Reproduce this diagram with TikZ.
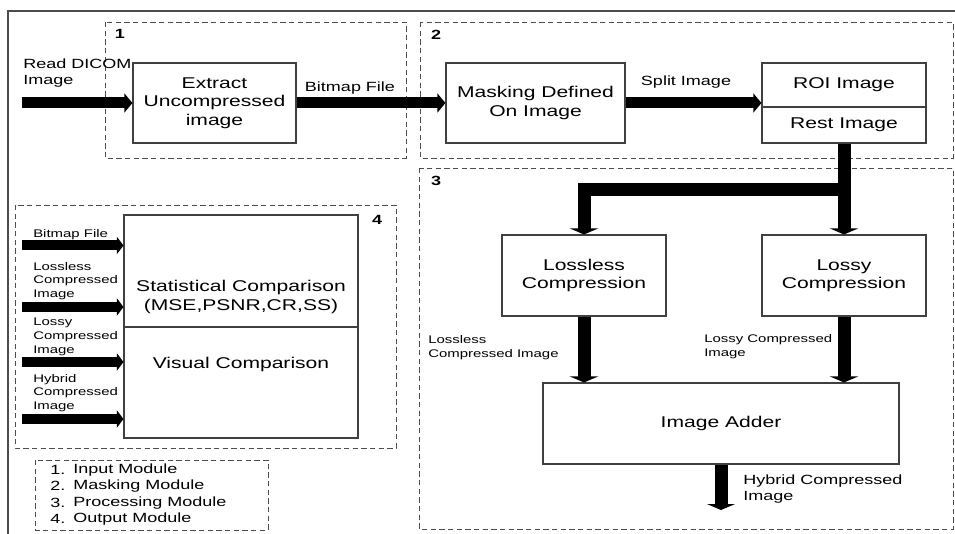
\documentclass[tikz,border=0pt]{standalone}
\usepackage{fontspec}
\setmainfont{Liberation Sans}[FakeStretch=1.35]
\usetikzlibrary{arrows.meta,positioning}
\newcommand{\bigtxt}{\fontsize{11.7}{13.8}\selectfont}
\newcommand{\midtxt}{\fontsize{10}{12}\selectfont}
\newcommand{\smalltxt}{\fontsize{8.3}{10.3}\selectfont}

\begin{document}
\begin{tikzpicture}[x=0.75pt, y=-0.75pt,
    blk/.style={draw=black!75, line width=0.8pt, fill=white, align=center,
                font=\bigtxt, inner sep=0pt},
    modbox/.style={draw=black!70, line width=0.7pt, dash pattern=on 4pt off 2.5pt},
    flow/.style={line width=8.25pt, -{Triangle[length=6pt, width=14pt]}},
    drop/.style={line width=9.75pt, line join=miter,
                 -{Triangle[length=4.5pt, width=21pt]}},
    lbl/.style={font=\midtxt, align=left, anchor=west, inner sep=0pt},
    slbl/.style={lbl, font=\smalltxt},
    tag/.style={font=\midtxt\bfseries, inner sep=0pt}]
    \useasboundingbox[fill=white] (0,0) rectangle (955,534);
    % Outer frame
    \draw[line width=1.5pt, black!70] (8,534) -- (8,11) -- (955,11);
    % Module boxes
    \draw[modbox] (105,22) rectangle (406,158);
    \draw[modbox] (420,22) rectangle (953,158);
    \draw[modbox] (419,168) rectangle (953,529);
    \draw[modbox] (15,205) rectangle (396,448);
    \draw[modbox] (35,460) rectangle (268,530);
    \node[tag] (tag1) at (120,34) {1};
    \node[tag] (tag2) at (436,35) {2};
    \node[tag] (tag3) at (436,181) {3};
    \node[tag] (tag4) at (377,220) {4};
    % Input and masking
    \node[blk, minimum width=122.25pt, minimum height=60pt] (extract)
         at (214.5,103) {Extract\\Uncompressed\\image};
    \node[blk, minimum width=134.25pt, minimum height=60pt] (masking)
         at (535.5,103) {Masking Defined\\On Image};
    \node[blk, minimum width=123pt, minimum height=33pt] (roi)
         at (844,85) {ROI Image};
    \node[blk, minimum width=123pt, minimum height=27pt] (rest)
         at (844,125) {Rest Image};
    \coordinate (dicom) at (22,103);
    \node[lbl] (dicomlbl) at (23,73) {Read DICOM\\Image};
    \node[font=\midtxt, inner sep=0pt] (bmplbl) at (350,88) {Bitmap File};
    \node[font=\midtxt, inner sep=0pt] (splitlbl) at (686,82) {Split Image};
    \draw[flow] (dicom) -- (extract.west);
    \draw[flow] (extract.east) -- (masking.west);
    \draw[flow] (masking.east) -- (masking.east -| roi.west);
    % Processing
    \node[blk, minimum width=123pt, minimum height=60.75pt] (lossless)
         at (584,275.5) {Lossless\\Compression};
    \node[blk, minimum width=123pt, minimum height=60.75pt] (lossy)
         at (844,275.5) {Lossy\\Compression};
    \node[blk, minimum width=267pt, minimum height=60.75pt] (adder)
         at (721,423.5) {Image Adder};
    \coordinate (fork) at (844,190);
    \coordinate (hybout) at (721,510);
    \draw[drop] (rest.south) -- (lossy.north);
    \draw[drop] (fork) -| (lossless.north);
    \draw[drop] (lossless.south) -- (lossless.south |- adder.north);
    \draw[drop] (lossy.south) -- (lossy.south |- adder.north);
    \draw[drop] (adder.south) -- (hybout);
    \node[slbl] (losslesslbl) at (428,348) {Lossless\\Compressed Image};
    \node[slbl] (lossylbl) at (704,347) {Lossy Compressed\\Image};
    \node[lbl] (hyblbl) at (743,489) {Hybrid Compressed\\Image};
    % Output
    \node[blk, minimum width=175.5pt, minimum height=84pt] (stat) at (241,271) {};
    \node[blk, minimum width=175.5pt, minimum height=83.25pt] (visual) at (241,382.5) {};
    \node[font=\bigtxt, align=center, inner sep=0pt] (stattxt) at (241,297)
         {Statistical Comparison\\(MSE,PSNR,CR,SS)};
    \node[font=\bigtxt, inner sep=0pt] (visualtxt) at (241,364) {Visual Comparison};
    \foreach \y/\t/\ly [count=\i] in {245.5/Bitmap File/235,
        307/Lossless\\Compressed\\Image/281,
        362/Lossy\\Compressed\\Image/337,
        419/Hybrid\\Compressed\\Image/393} {
        \coordinate (in\i) at (22,\y);
        \draw[flow, line width=7.5pt, -{Triangle[length=5pt, width=13pt]}]
             (in\i) -- (in\i -| stat.west);
        \node[slbl] (inlbl\i) at (33,\ly) {\t};
    }
    % Legend
    \foreach \t [count=\i] in {Input Module, Masking Module,
        Processing Module, Output Module} {
        \node[lbl] (legnum\i) at (50,{470+16.3*(\i-1)}) {\i.};
        \node[lbl] (legtxt\i) at (73,{470+16.3*(\i-1)}) {\t};
    }
\end{tikzpicture}
\end{document}
